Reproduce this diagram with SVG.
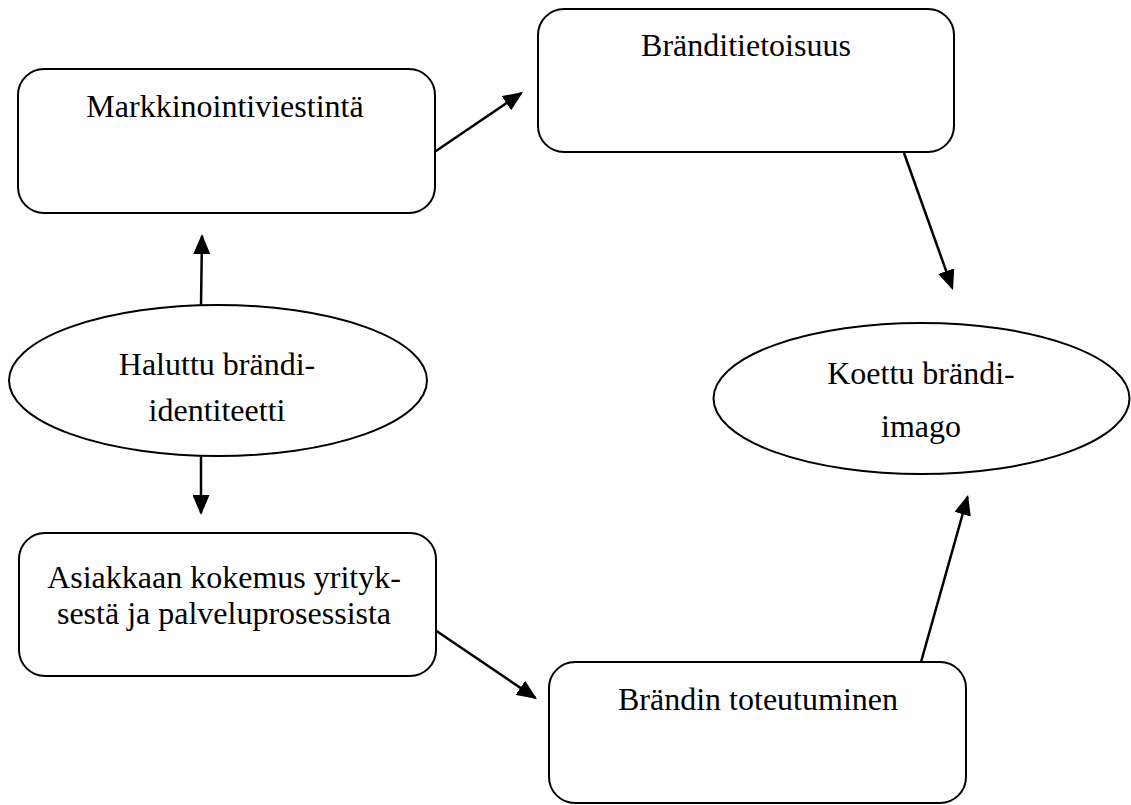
<svg xmlns="http://www.w3.org/2000/svg" width="1131" height="805" viewBox="0 0 1131 805">
  <style>
    .box { fill: #ffffff; stroke: #000000; stroke-width: 2; }
    .lbl { font-family: "Liberation Serif", "Times New Roman", serif; font-size: 32px; fill: #000000; text-anchor: middle; }
    .edge { stroke: #000000; stroke-width: 2.5; fill: none; marker-end: url(#arrow); }
  </style>
  <defs>
    <!-- solid triangular arrowhead, tip sits 2px past the line end -->
    <marker id="arrow" viewBox="0 0 20 17" markerWidth="20" markerHeight="17" refX="18" refY="8.5" orient="auto" markerUnits="userSpaceOnUse">
      <path d="M0,0 L20,8.5 L0,17 Z" fill="#000000" />
    </marker>
  </defs>
  <rect width="1131" height="805" fill="#ffffff" />

  <g id="connectors">
    <line class="edge" x1="433" y1="153" x2="521.3" y2="93.1" />
    <line class="edge" x1="201" y1="306" x2="202" y2="236" />
    <line class="edge" x1="201" y1="456" x2="201" y2="513" />
    <line class="edge" x1="435" y1="630" x2="535.3" y2="697.9" />
    <line class="edge" x1="904" y1="153" x2="952.3" y2="288.1" />
    <line class="edge" x1="921" y1="662" x2="967.5" y2="496.9" />
  </g>

  <g id="markkinointiviestinta">
    <rect class="box" x="18" y="69" width="417" height="144" rx="26" ry="26" />
    <text class="lbl" x="225" y="117">Markkinointiviestintä</text>
  </g>

  <g id="brandtietoisuus">
    <rect class="box" x="538" y="9" width="416" height="143" rx="26" ry="26" />
    <text class="lbl" x="746" y="56">Bränditietoisuus</text>
  </g>

  <g id="haluttu-brandi-identiteetti">
    <ellipse class="box" cx="218" cy="380.5" rx="209" ry="75.5" />
    <text class="lbl" x="217" y="375">Haluttu brändi-</text>
    <text class="lbl" x="217" y="421">identiteetti</text>
  </g>

  <g id="koettu-brandi-imago">
    <ellipse class="box" cx="921.5" cy="398.5" rx="208" ry="75.5" />
    <text class="lbl" x="921" y="384">Koettu brändi-</text>
    <text class="lbl" x="921" y="437">imago</text>
  </g>

  <g id="asiakkaan-kokemus">
    <rect class="box" x="19" y="533" width="417" height="143" rx="26" ry="26" />
    <text class="lbl" x="224" y="588">Asiakkaan kokemus yrityk-</text>
    <text class="lbl" x="224" y="624">sestä ja palveluprosessista</text>
  </g>

  <g id="brandin-toteutuminen">
    <rect class="box" x="549" y="662" width="417" height="141" rx="26" ry="26" />
    <text class="lbl" x="758" y="710">Brändin toteutuminen</text>
  </g>
</svg>
